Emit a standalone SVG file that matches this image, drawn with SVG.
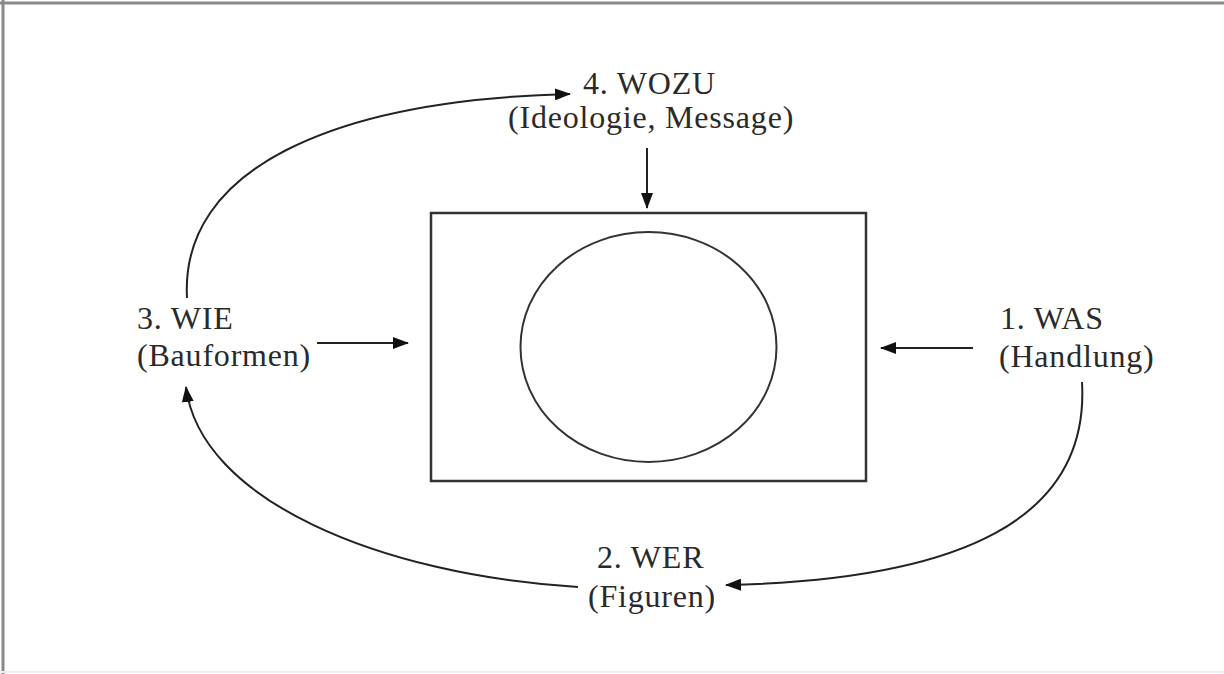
<svg xmlns="http://www.w3.org/2000/svg" width="1224" height="674" viewBox="0 0 1224 674">
<style>
.lbl{font-family:"Liberation Serif","Times New Roman",serif;font-size:32px;fill:#2a2a2a;letter-spacing:0.8px}
.ln{fill:none;stroke:#222;stroke-width:2}
</style>
<defs>
<marker id="ah" markerUnits="userSpaceOnUse" markerWidth="16" markerHeight="12" refX="15" refY="6" orient="auto">
<path d="M0,0 L16,6 L0,12 Z" fill="#111"/>
</marker>
</defs>
<rect x="0" y="0" width="1224" height="674" fill="#fff"/>
<g id="frame">
<line x1="0" y1="3" x2="1224" y2="3" stroke="#8a8a8a" stroke-width="3"/>
<line x1="3" y1="0" x2="3" y2="674" stroke="#8a8a8a" stroke-width="3"/>
<line x1="0" y1="672" x2="1224" y2="672" stroke="#eee" stroke-width="2"/>
</g>
<g id="center">
<rect x="431" y="213" width="435" height="268" fill="none" stroke="#333" stroke-width="2.5"/>
<ellipse cx="648.5" cy="347" rx="128" ry="115" fill="none" stroke="#333" stroke-width="2"/>
</g>
<g id="wozu">
<text class="lbl" x="583" y="94">4. WOZU</text>
<text class="lbl" x="508" y="128">(Ideologie, Message)</text>
</g>
<g id="wie">
<text class="lbl" x="137" y="329">3. WIE</text>
<text class="lbl" x="137" y="366">(Bauformen)</text>
</g>
<g id="was">
<text class="lbl" x="1000" y="329">1. WAS</text>
<text class="lbl" x="999" y="367">(Handlung)</text>
</g>
<g id="wer">
<text class="lbl" x="597" y="568">2. WER</text>
<text class="lbl" x="588" y="607">(Figuren)</text>
</g>
<g id="connectors">
<line class="ln" x1="647" y1="148" x2="647" y2="208" marker-end="url(#ah)"/>
<line class="ln" x1="317" y1="343" x2="408" y2="343" marker-end="url(#ah)"/>
<line class="ln" x1="973" y1="348" x2="881" y2="348" marker-end="url(#ah)"/>
<path class="ln" d="M1082,382 C1090,520 960,580 726,585" marker-end="url(#ah)"/>
<path class="ln" d="M578,587 C380,575 200,500 186,387" marker-end="url(#ah)"/>
<path class="ln" d="M187,298 C180,170 330,100 570,94" marker-end="url(#ah)"/>
</g>
</svg>
